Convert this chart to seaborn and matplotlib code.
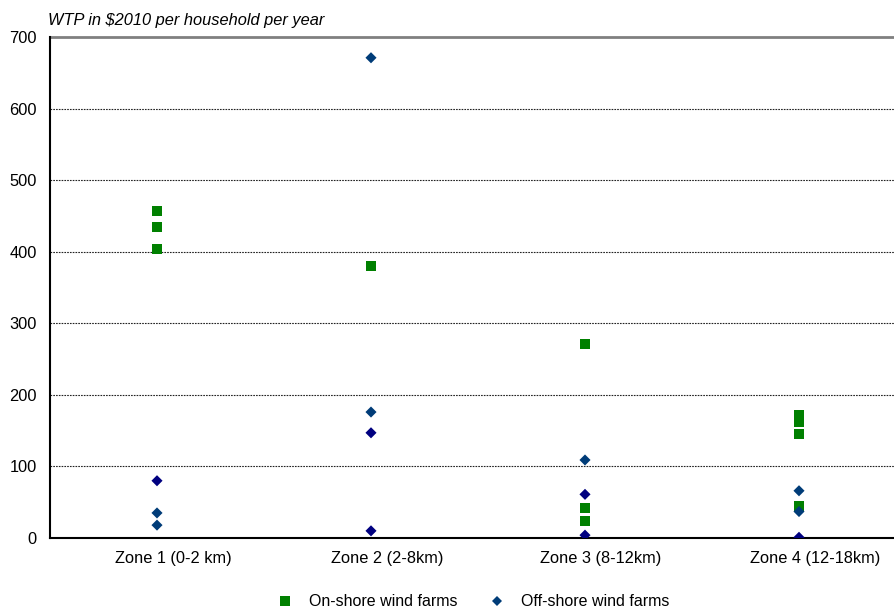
import matplotlib
matplotlib.use("Agg")
import matplotlib.pyplot as plt
import matplotlib.transforms as mtransforms
from matplotlib.lines import Line2D
import seaborn as sns
import pandas as pd

zones = ["Zone 1 (0-2 km)", "Zone 2 (2-8km)", "Zone 3 (8-12km)", "Zone 4 (12-18km)"]

onshore_zone = [0, 0, 0, 1, 2, 2, 2, 3, 3, 3, 3]
onshore_wtp = [457, 434, 404, 380, 271, 42, 24, 172, 162, 145, 45]

offshore_a_zone = [0, 0, 1, 1, 2, 3, 3]          # dark blue diamonds
offshore_a_wtp = [35, 18, 671, 176, 109, 66, 37]

offshore_b_zone = [0, 1, 1, 2, 2, 3]             # navy diamonds
offshore_b_wtp = [80, 147, 10, 61, 4, 1]

yticks = [0, 100, 200, 300, 400, 500, 600, 700]

sns.set_style("white")
plt.rcParams["font.family"] = ["Liberation Sans", "DejaVu Sans"]
plt.rcParams["text.color"] = "black"
plt.rcParams["xtick.color"] = "black"
plt.rcParams["ytick.color"] = "black"
plt.rcParams["axes.labelcolor"] = "black"

fig = plt.figure(figsize=(8.95, 6.09), dpi=100)
W, H = 895, 609
ax = fig.add_axes([50 / W, (H - 538) / H, (906 - 50) / W, (538 - 37) / H])

df_on = pd.DataFrame({"x": onshore_zone, "y": onshore_wtp})
df_a = pd.DataFrame({"x": offshore_a_zone, "y": offshore_a_wtp})
df_b = pd.DataFrame({"x": offshore_b_zone, "y": offshore_b_wtp})

green = "#008000"
dblue = "#003C78"
navy = "#000080"

sns.scatterplot(data=df_on, x="x", y="y", ax=ax, marker="s", s=50, color=green,
                edgecolor="none", linewidth=0, zorder=3, legend=False)
sns.scatterplot(data=df_a, x="x", y="y", ax=ax, marker="D", s=32, color=dblue,
                edgecolor="none", linewidth=0, zorder=4, legend=False)
sns.scatterplot(data=df_b, x="x", y="y", ax=ax, marker="D", s=32, color=navy,
                edgecolor="none", linewidth=0, zorder=4, legend=False)

ax.set_xlim(-0.5, 3.5)
ax.set_ylim(0, 700)
ax.set_yticks(yticks)
ax.set_yticklabels([str(v) for v in yticks], fontsize=11.8)
ax.set_xticks(range(len(zones)))
ax.set_xticklabels(zones, fontsize=11.8)
ax.set_xticks([-0.5, 0.5, 1.5, 2.5, 3.5], minor=True)
ax.tick_params(axis="x", which="major", length=0, pad=9)
ax.tick_params(axis="x", which="minor", length=4, width=1, color="black", direction="out")
ax.tick_params(axis="y", which="major", length=3.5, width=1, color="black", direction="out", pad=6)
ax.set_xlabel("")
ax.set_ylabel("")

offset = mtransforms.ScaledTranslation(16 / 100, 0, fig.dpi_scale_trans)
for lab in ax.get_xticklabels():
    lab.set_transform(lab.get_transform() + offset)

for v in yticks[1:-1]:
    ax.axhline(v, color="#222222", linewidth=0.8, linestyle=(0, (1.5, 1)), zorder=1)
ax.axhline(700, color="#808080", linewidth=2, zorder=1, clip_on=False)

for side in ["top", "right"]:
    ax.spines[side].set_visible(False)
ax.spines["left"].set_color("black")
ax.spines["left"].set_linewidth(1.5)
ax.spines["bottom"].set_color("black")
ax.spines["bottom"].set_linewidth(1.5)

fig.text(48 / W, 1 - 20 / H, r"WTP in \$2010 per household per year", fontsize=11.8,
         style="italic", ha="left", va="center")

handles = [
    Line2D([], [], marker="s", linestyle="none", color=green, markersize=7, markeredgewidth=0),
    Line2D([], [], marker="D", linestyle="none", color=dblue, markersize=5.5, markeredgewidth=0),
]
fig.legend(handles, ["On-shore wind farms", "Off-shore wind farms"], loc="center",
           bbox_to_anchor=(472.5 / W, 1 - 602 / H), ncol=2, frameon=False, fontsize=11.5,
           columnspacing=1.9, handletextpad=0.9, handlelength=1.2)

fig.savefig("out.png", dpi=100)
